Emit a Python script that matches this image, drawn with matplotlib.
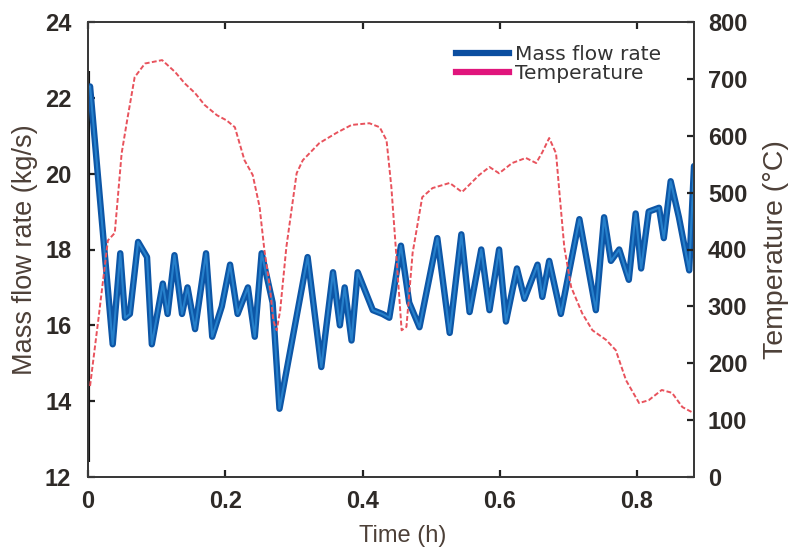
import matplotlib
matplotlib.use("Agg")
import matplotlib.pyplot as plt
from matplotlib.lines import Line2D

# ---------------- data ----------------
flow_time = [0.003, 0.036, 0.047, 0.054, 0.061, 0.073, 0.086, 0.093, 0.109, 0.116,
             0.126, 0.137, 0.145, 0.156, 0.172, 0.181, 0.195, 0.207, 0.218, 0.233,
             0.243, 0.253, 0.269, 0.279, 0.320, 0.340, 0.357, 0.367, 0.374, 0.384,
             0.393, 0.415, 0.429, 0.439, 0.456, 0.468, 0.483, 0.509, 0.527, 0.544,
             0.556, 0.573, 0.585, 0.599, 0.609, 0.625, 0.636, 0.655, 0.662, 0.672,
             0.689, 0.716, 0.740, 0.752, 0.762, 0.774, 0.788, 0.798, 0.806, 0.817,
             0.832, 0.839, 0.849, 0.861, 0.876, 0.883]
mass_flow = [22.3, 15.5, 17.9, 16.2, 16.3, 18.2, 17.8, 15.5, 17.1, 16.3,
             17.85, 16.3, 17.0, 15.9, 17.9, 15.7, 16.5, 17.6, 16.3, 17.0,
             15.7, 17.9, 16.6, 13.8, 17.8, 14.9, 17.4, 16.0, 17.0, 15.6,
             17.4, 16.4, 16.3, 16.2, 18.1, 16.6, 15.95, 18.3, 15.8, 18.4,
             16.35, 18.0, 16.4, 18.0, 16.1, 17.5, 16.7, 17.6, 16.75, 17.7,
             16.3, 18.8, 16.4, 18.85, 17.7, 18.0, 17.2, 18.95, 17.5, 19.0,
             19.1, 18.3, 19.8, 18.85, 17.45, 20.2]

# initial transient drawn on the left edge
startup_time = [0.0, 0.0]
startup_flow = [12.4, 22.7]

temp_time = [0.003, 0.015, 0.029, 0.039, 0.049, 0.057, 0.068, 0.083, 0.108, 0.127,
             0.141, 0.156, 0.170, 0.188, 0.202, 0.214, 0.228, 0.240, 0.250, 0.257,
             0.265, 0.270, 0.275, 0.280, 0.289, 0.304, 0.313, 0.337, 0.362, 0.384,
             0.410, 0.425, 0.435, 0.442, 0.449, 0.457, 0.464, 0.473, 0.487, 0.502,
             0.527, 0.545, 0.570, 0.585, 0.599, 0.618, 0.638, 0.653, 0.662, 0.672,
             0.682, 0.687, 0.694, 0.704, 0.720, 0.735, 0.755, 0.769, 0.784, 0.803,
             0.817, 0.836, 0.851, 0.866, 0.880]
temperature = [160, 276, 416, 429, 569, 627, 703, 727, 733, 712,
               692, 675, 654, 636, 627, 615, 557, 531, 475, 399,
               334, 275, 258, 293, 404, 534, 557, 587, 605, 619,
               622, 615, 592, 510, 394, 258, 264, 394, 492, 508,
               517, 501, 531, 545, 534, 552, 561, 552, 571, 596,
               569, 499, 404, 334, 288, 258, 241, 223, 170, 130,
               135, 153, 148, 123, 114]

x_ticks = [0, 0.2, 0.4, 0.6, 0.8]
x_tick_labels = ["0", "0.2", "0.4", "0.6", "0.8"]
left_ticks = [12, 14, 16, 18, 20, 22, 24]
right_ticks = [0, 100, 200, 300, 400, 500, 600, 700, 800]

legend_labels = ["Mass flow rate", "Temperature"]

# ---------------- style ----------------
tick_font = ["Liberation Sans", "DejaVu Sans"]
label_font = ["Liberation Sans", "DejaVu Sans"]
text_col = "#2e2a27"
label_col = "#4d4038"
spine_col = "#3a3a3a"

fig = plt.figure(figsize=(7.97, 5.52), dpi=100)
ax = fig.add_axes([88 / 797, 1 - 477 / 552, 606 / 797, 455 / 552])
ax2 = ax.twinx()

# mass flow (two-tone blue)
ax.plot(startup_time, startup_flow, color="#111111", lw=3.0, solid_capstyle="butt", zorder=3)
ax.plot(flow_time, mass_flow, color="#0d56a6", lw=4.6, solid_joinstyle="round",
        solid_capstyle="round", zorder=4)
ax.plot(flow_time, mass_flow, color="#2f8fd8", lw=1.5, alpha=0.75,
        solid_joinstyle="round", zorder=5)

# temperature (red dashed)
ax2.plot(temp_time, temperature, color="#e8525c", lw=1.4, linestyle=(0, (2.5, 1.2)), zorder=3)

ax.set_xlim(0, 0.883)
ax.set_ylim(12, 24)
ax2.set_ylim(0, 800)

ax.set_xticks(x_ticks)
ax.set_xticklabels(x_tick_labels)
ax.set_yticks(left_ticks)
ax2.set_yticks(right_ticks)

for a in (ax, ax2):
    for s in a.spines.values():
        s.set_color(spine_col)
        s.set_linewidth(1.4)

ax.tick_params(axis="both", direction="in", length=5, width=1.6, color="#222222",
               top=True, labelcolor=text_col)
ax.tick_params(axis="y", pad=12)
ax.tick_params(axis="x", pad=9)
ax2.tick_params(axis="y", direction="in", length=5, width=1.6, color="#222222",
                labelcolor=text_col, pad=10)

for lab in ax.get_xticklabels() + ax.get_yticklabels() + ax2.get_yticklabels():
    lab.set_fontfamily(tick_font)
    lab.set_fontweight("bold")
    lab.set_fontsize(17)

ax.set_xlabel("Time (h)", family=label_font, fontsize=17, color=label_col)
ax.xaxis.set_label_coords(0.52, -0.105)
ax.set_ylabel("Mass flow rate (kg/s)", family=label_font, fontsize=19.5, color=label_col,
              labelpad=5)
ax2.set_ylabel("Temperature (\u00b0C)", family=label_font, fontsize=20.5, color=label_col,
               labelpad=11)

handles = [Line2D([0], [0], color="#0b4ea0", lw=4.5),
           Line2D([0], [0], color="#e0157c", lw=4.5)]
leg = ax.legend(handles, legend_labels, loc="upper right", bbox_to_anchor=(0.975, 0.99),
                frameon=False, handlelength=2.6, handletextpad=0.3, labelspacing=0.0,
                prop={"family": ["DejaVu Sans"], "size": 14.5})
for t in leg.get_texts():
    t.set_color("#333333")

fig.savefig("out.png", dpi=100)
